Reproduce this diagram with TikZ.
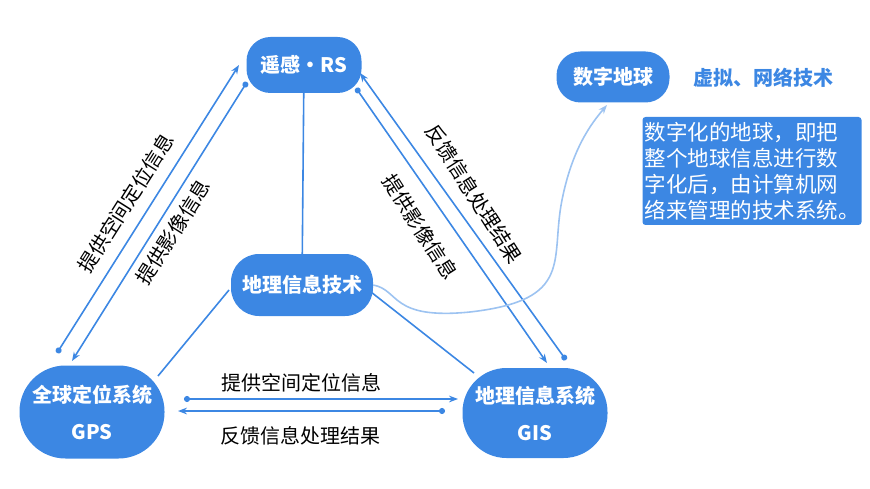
\documentclass[tikz,border=0pt]{standalone}
\usepackage{fontspec}
\setmainfont{Noto Sans CJK SC}
\usetikzlibrary{arrows.meta}
\definecolor{bl}{HTML}{3C87E3}
\begin{document}
\begin{tikzpicture}[x=1pt,y=-1pt,
  box/.style={fill=bl,text=white,font=\bfseries\fontsize{20}{23}\selectfont,rounded corners=24pt,align=center,inner sep=0pt},
  ln/.style={draw=bl,line width=1.6pt},
  ar/.style={ln,{Circle[length=6pt]}-{Stealth[length=9pt]}},
  lab/.style={font=\fontsize{20}{23}\selectfont}]
\useasboundingbox (0,0) rectangle (870,489);
\node[box,minimum width=115pt,minimum height=56pt] (rs) at (304,65) {遥感·RS};
\node[box,minimum width=142pt,minimum height=62pt,rounded corners=28pt] (tech) at (302,285) {地理信息技术};
\node[box,minimum width=145pt,minimum height=93pt,rounded corners=46pt] (gps) at (92,412) {全球定位系统\\[14pt]GPS};
\node[box,minimum width=145pt,minimum height=90pt,rounded corners=44pt] (gis) at (535,413) {地理信息系统\\[14pt]GIS};
\node[box,minimum width=113pt,minimum height=51pt] (de) at (613,77) {数字地球};
\node[text=bl,font=\bfseries\fontsize{20}{23}\selectfont] (vt) at (763,78) {虚拟、网络技术};
\node[fill=bl,text=white,font=\fontsize{21.5}{26}\selectfont,minimum width=218pt,minimum height=108pt,align=left,inner sep=2pt,rounded corners=3pt] (desc) at (752,171) {数字化的地球，即把\\整个地球信息进行数\\字化后，由计算机网\\络来管理的技术系统。};
\coordinate (a1) at (57,353); \coordinate (a2) at (239,65);
\coordinate (b1) at (247,82); \coordinate (b2) at (72,361);
\coordinate (c1) at (356,88); \coordinate (c2) at (547,363);
\coordinate (d1) at (566,360); \coordinate (d2) at (360,73);
\coordinate (e1) at (184,399); \coordinate (e2) at (458,399);
\coordinate (f1) at (445,411); \coordinate (f2) at (178,411);
\coordinate (t1) at (229,290); \coordinate (g1) at (158,376);
\coordinate (t2) at (371,292); \coordinate (g2) at (474,373);
\draw[ar] (a1) -- (a2);
\draw[ar] (b1) -- (b2);
\draw[ar] (c1) -- (c2);
\draw[ar] (d1) -- (d2);
\draw[ar] (e1) -- (e2);
\draw[ar] (f1) -- (f2);
\draw[ln] (rs) -- (tech);
\draw[ln] (t1) -- (g1);
\draw[ln] (t2) -- (g2);
\draw[draw=bl!50,line width=1.6pt,-{Stealth[length=9pt]}] (tech.east) .. controls (400,290) and (390,320) .. (470,312) .. controls (575,300) and (550,260) .. (562,200) .. controls (572,150) and (590,125) .. (607,105);
\node[lab,rotate=57.7] at (126,203) {提供空间定位信息};
\node[lab,rotate=57.7] at (173,232) {提供影像信息};
\node[lab,rotate=-57.5] at (474,194) {反馈信息处理结果};
\node[lab,rotate=-57.5] at (420,227) {提供影像信息};
\node[lab] at (301,383) {提供空间定位信息};
\node[lab] at (300,436) {反馈信息处理结果};
\end{tikzpicture}
\end{document}
